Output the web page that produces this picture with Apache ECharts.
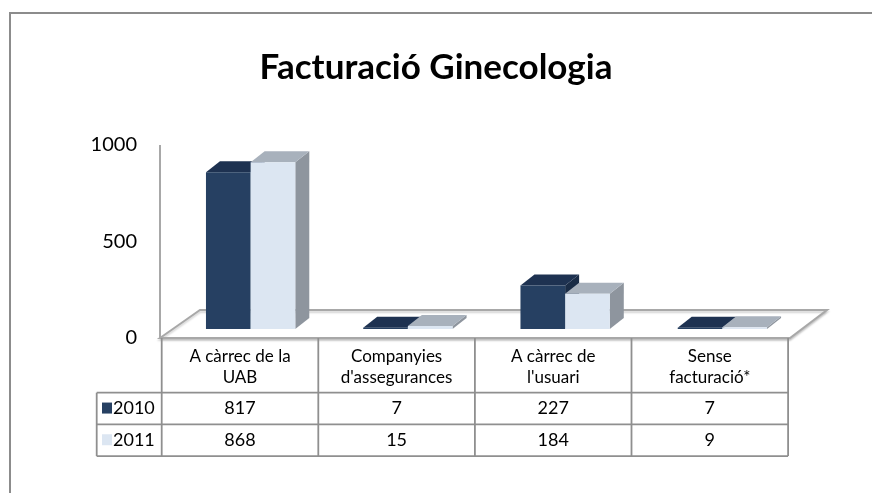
<!DOCTYPE html>
<html>
<head>
<meta charset="utf-8">
<script src="https://cdn.jsdelivr.net/npm/echarts@6/dist/echarts.min.js"></script>
<style>html,body{margin:0;padding:0;background:#fff}#main{width:872px;height:493px}</style>
</head>
<body>
<div id="main"></div>
<script>
var categories = ["A càrrec de la\nUAB", "Companyies\nd'assegurances", "A càrrec de\nl'usuari", "Sense\nfacturació*"];
var years = ['2010', '2011'];
var values2010 = [817, 7, 227, 7];
var values2011 = [868, 15, 184, 9];
var yTicks = [0, 500, 1000];

var FONT = 'Lato';
var colors = [
	{front: '#264062', top: '#1e3251', side: '#1a2c46', legend: '#264062'},
	{front: '#dce6f2', top: '#a8b1bc', side: '#8e959e', legend: '#dce6f2'}
];

// 3d bar: front face, top face, right side
function barRenderer(si) {
	var c = colors[si];
	return function (params, api) {
		var idx = api.value(0);
		var top = api.coord([idx, api.value(1)]);
		var base = api.coord([idx, 0]);
		var w = api.size([1, 0])[0] * 0.284;
		var x0 = si === 0 ? top[0] - w : top[0];
		var x1 = x0 + w;
		var dx = 14, dy = -11;
		var yt = top[1], yb = base[1];
		return {
			type: 'group',
			children: [
				{type: 'polygon', shape: {points: [[x1, yt], [x1 + dx, yt + dy], [x1 + dx, yb + dy], [x1, yb]]}, style: {fill: c.side}},
				{type: 'polygon', shape: {points: [[x0, yt], [x0 + dx, yt + dy], [x1 + dx, yt + dy], [x1, yt]]}, style: {fill: c.top}},
				{type: 'rect', shape: {x: x0, y: yt, width: w, height: yb - yt}, style: {fill: c.front}}
			]
		};
	};
}

// table layout
var tLeft = 161.7, colW = 156.6, legLeft = 96.7;
var tTop = 338, headH = 54.7, rowH = 31.7;
var tRight = tLeft + colW * categories.length;
var lineStyle = {stroke: '#8f8f8f', lineWidth: 1.8};

var graphics = [];
// outer border (left + top)
graphics.push({type: 'polyline', z: 1, shape: {points: [[10, 500], [10, 13], [880, 13]]}, style: {stroke: '#8c8c8c', lineWidth: 2, fill: null}});
// floor
graphics.push({type: 'polygon', z: -1, shape: {points: [[160, 338], [200, 310], [827, 310], [790, 338]]},
	style: {fill: '#fff', stroke: '#a8a8a8', lineWidth: 2, shadowColor: 'rgba(0,0,0,0.18)', shadowBlur: 2, shadowOffsetY: 2}});
// wall edge
graphics.push({type: 'line', z: -1, shape: {x1: 160, y1: 145, x2: 160, y2: 338}, style: {stroke: '#a8a8a8', lineWidth: 2}});

// table lines
for (var i = 0; i <= categories.length; i++) {
	var x = tLeft + colW * i;
	graphics.push({type: 'line', z: 10, shape: {x1: x, y1: tTop, x2: x, y2: tTop + headH + rowH * 2}, style: lineStyle});
}
graphics.push({type: 'line', z: 10, shape: {x1: legLeft, y1: tTop + headH, x2: legLeft, y2: tTop + headH + rowH * 2}, style: lineStyle});
for (var r = 0; r <= 2; r++) {
	var y = tTop + headH + rowH * r;
	graphics.push({type: 'line', z: 10, shape: {x1: legLeft, y1: y, x2: tRight, y2: y}, style: lineStyle});
}
// header texts
categories.forEach(function (name, i) {
	graphics.push({type: 'text', z: 11, x: tLeft + colW * (i + 0.5), y: tTop + headH / 2 + 2,
		style: {text: name, font: '17px ' + FONT, fill: '#000', align: 'center', verticalAlign: 'middle', lineHeight: 21}});
});
// rows
[values2010, values2011].forEach(function (vals, r) {
	var yc = tTop + headH + rowH * (r + 0.5);
	graphics.push({type: 'rect', z: 11, shape: {x: 102, y: yc - 6, width: 10, height: 11}, style: {fill: colors[r].legend}});
	graphics.push({type: 'text', z: 11, x: 113, y: yc, style: {text: years[r], font: '18px ' + FONT, fill: '#000', align: 'left', verticalAlign: 'middle'}});
	vals.forEach(function (v, i) {
		graphics.push({type: 'text', z: 11, x: tLeft + colW * (i + 0.5), y: yc,
			style: {text: String(v), font: '18px ' + FONT, fill: '#000', align: 'center', verticalAlign: 'middle'}});
	});
});

var myChart = echarts.init(document.getElementById('main'));
var option = {
	animation: false,
	title: {
		text: 'Facturació Ginecologia',
		left: 'center',
		top: 45,
		textStyle: {fontFamily: FONT, fontWeight: 'bold', fontSize: 35, color: '#000'}
	},
	grid: [
		{left: 172, width: 629, top: 137, height: 192},
		{left: 160, width: 630, top: 145, height: 193}
	],
	xAxis: [
		{type: 'category', gridIndex: 0, data: categories, show: false},
		{type: 'value', gridIndex: 1, show: false}
	],
	yAxis: [
		{type: 'value', gridIndex: 0, min: 0, max: 1000, show: false},
		{type: 'value', gridIndex: 1, min: yTicks[0], max: yTicks[yTicks.length - 1], interval: 500,
			axisLine: {show: false}, axisTick: {show: false}, splitLine: {show: false},
			axisLabel: {fontFamily: FONT, fontSize: 20, color: '#000', margin: 23, formatter: function (v) { return String(v); }}}
	],
	series: [
		{type: 'custom', name: years[0], xAxisIndex: 0, yAxisIndex: 0, renderItem: barRenderer(0),
			data: values2010.map(function (v, i) { return [i, v]; }), encode: {x: 0, y: 1}},
		{type: 'custom', name: years[1], xAxisIndex: 0, yAxisIndex: 0, renderItem: barRenderer(1),
			data: values2011.map(function (v, i) { return [i, v]; }), encode: {x: 0, y: 1}}
	],
	graphic: graphics
};
myChart.setOption(option);
</script>
</body>
</html>
